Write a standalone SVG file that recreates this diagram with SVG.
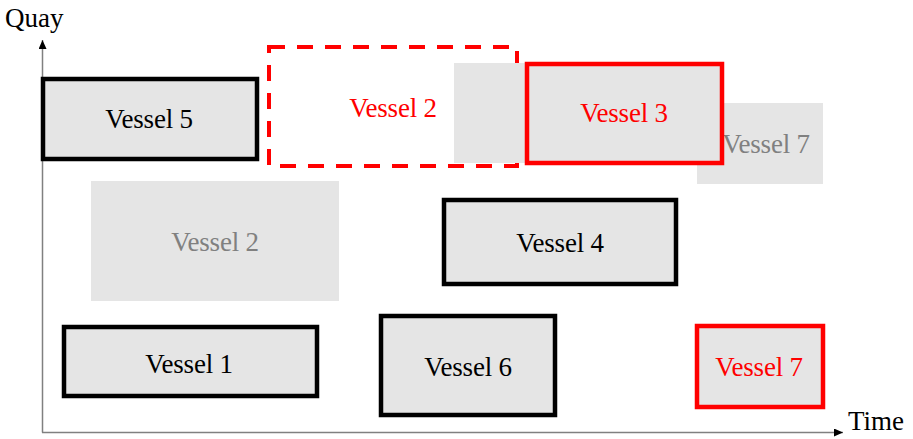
<svg xmlns="http://www.w3.org/2000/svg" width="913" height="439" viewBox="0 0 913 439">
<defs>
<marker id="arr" markerUnits="userSpaceOnUse" markerWidth="10" markerHeight="10" refX="9" refY="4" orient="auto">
<path d="M0,0 L9,4 L0,8 Z" fill="#000"/>
</marker>
<style>
text{font-family:"Liberation Serif","Times New Roman",serif;font-size:27px;text-anchor:middle;letter-spacing:-0.2px}
.box{fill:#e5e5e5;stroke:#000;stroke-width:4.5}
.red{fill:#e5e5e5;stroke:#ff0000;stroke-width:4.5}
.ghost{fill:#e5e5e5;stroke:none}
.dash{fill:none;stroke:#ff0000;stroke-width:4;stroke-dasharray:16 12}
.tb{fill:#000}
.tr{fill:#ff0000}
.tg{fill:#808080}
.axis{stroke:#808080;stroke-width:1.5;fill:none}
.lbl{text-anchor:start;letter-spacing:0}
</style>
</defs>
<g id="axes">
<line class="axis" x1="42.5" y1="432.5" x2="42.5" y2="40" marker-end="url(#arr)"/>
<line class="axis" x1="42" y1="432.5" x2="843" y2="432.5" marker-end="url(#arr)"/>
<text class="lbl tb" x="5" y="27">Quay</text>
<text class="lbl tb" x="848" y="430">Time</text>
</g>
<g id="vessel2-planned">
<rect class="dash" x="269" y="47" width="248" height="119"/>
<text class="tr" x="393" y="117">Vessel 2</text>
</g>
<g id="vessel3-original">
<rect class="ghost" x="454" y="63" width="240" height="100"/>
</g>
<g id="vessel7-original">
<rect class="ghost" x="697" y="103" width="126" height="81"/>
<text class="tg" x="766" y="153">Vessel 7</text>
</g>
<g id="vessel5">
<rect class="box" x="43" y="79" width="214" height="80"/>
<text class="tb" x="149" y="128">Vessel 5</text>
</g>
<g id="vessel3">
<rect class="red" x="527" y="64" width="195" height="99"/>
<text class="tr" x="624" y="122">Vessel 3</text>
</g>
<g id="vessel2-original">
<rect class="ghost" x="91" y="181" width="248" height="120"/>
<text class="tg" x="215" y="251">Vessel 2</text>
</g>
<g id="vessel4">
<rect class="box" x="444" y="200" width="232" height="84"/>
<text class="tb" x="560" y="252">Vessel 4</text>
</g>
<g id="vessel1">
<rect class="box" x="64" y="327" width="253" height="69"/>
<text class="tb" x="189" y="373">Vessel 1</text>
</g>
<g id="vessel6">
<rect class="box" x="381" y="316" width="174" height="99"/>
<text class="tb" x="468" y="376">Vessel 6</text>
</g>
<g id="vessel7">
<rect class="red" x="697" y="326" width="126" height="81"/>
<text class="tr" x="759" y="376">Vessel 7</text>
</g>
<g id="connectors"/>
</svg>
